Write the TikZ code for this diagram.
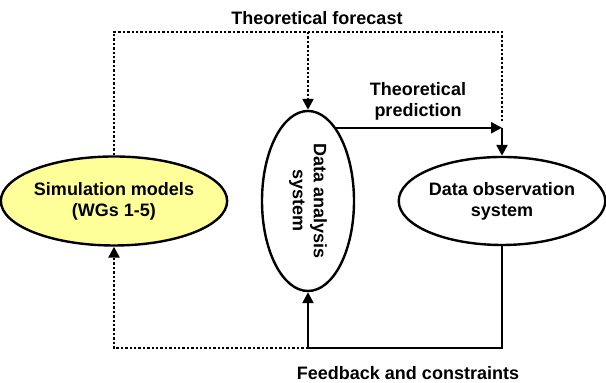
\documentclass[tikz,border=0pt]{standalone}
\usepackage{fontspec}
\setmainfont{Liberation Sans}
\usetikzlibrary{arrows.meta, positioning, shapes.geometric}
\definecolor{simyellow}{RGB}{255,255,153}

\begin{document}
\begin{tikzpicture}[x=0.5pt, y=-0.5pt, node distance=97pt, on grid,
        font=\bfseries\fontsize{9}{10.5}\selectfont,
        sys/.style={ellipse, draw, line width=1.2pt, inner sep=0pt, align=center},
        flow/.style={line width=1.2pt, -{Triangle[length=5.5pt,width=5.5pt]}},
        fcast/.style={line width=1.2pt, dash pattern=on 1.2pt off 1pt}]
        \useasboundingbox (0,0) rectangle (606,383);
        \node[sys, fill=simyellow, minimum width=101.5pt, minimum height=44.5pt] (sim) at (114,201) {Simulation models\\(WGs 1-5)};
        \node[sys, minimum width=46pt, minimum height=90pt] (das) [right=of sim] {};
        \node[rotate=-90, align=center] (dastext) at (das) {Data analysis\\system};
        \node[sys, minimum width=101pt, minimum height=44pt] (obs) [right=of das] {Data observation\\system};
        \coordinate (top) at (0,32);
        \coordinate (fb) at (das.south |- 0,348);
        \draw[fcast] (sim.north) |- (obs.north |- top) -- ++(0,90);
        \draw[fcast, -{Triangle[length=5.5pt,width=5.5pt]}] (das.north |- top) -- (das.north);
        \draw[flow] (das.69) -- (das.69 -| obs.north) coordinate (pred);
        \draw[flow] (pred) -- (obs.north);
        \draw[flow] (obs.south) |- (fb) -- (das.south);
        \draw[fcast, -{Triangle[length=5.5pt,width=5.5pt]}] (fb) -| (sim.south);
        \node (forecast) at (317,18) {Theoretical forecast};
        \node[align=center] (predtext) at (418,101) {Theoretical\\prediction};
        \node (feedback) at (408,373) {Feedback and constraints};
    \end{tikzpicture}
\end{document}
